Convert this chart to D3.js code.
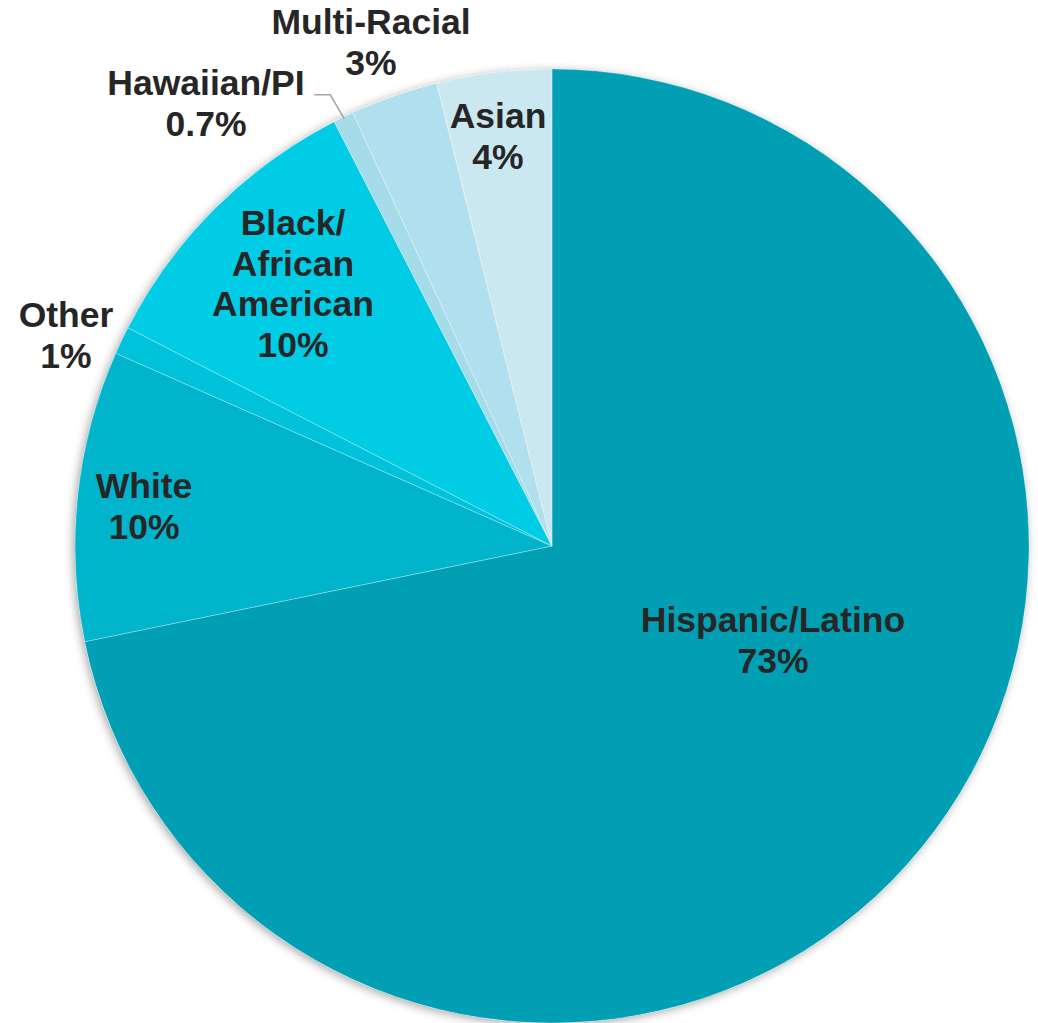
<!DOCTYPE html>
<html>
<head>
<meta charset="utf-8">
<script src="https://cdn.jsdelivr.net/npm/d3@7"></script>
<style>
  html, body { margin: 0; padding: 0; background: #fff; }
  svg { display: block; }
</style>
</head>
<body>
<div id="chart"></div>
<script>
// ── Data ─────────────────────────────────────────────────────────────
const categories = ["Hispanic/Latino", "White", "Other", "Black/African American",
                    "Hawaiian/PI", "Multi-Racial", "Asian"];
const shares     = [71.8, 9.84, 0.94, 9.89, 0.69, 2.97, 3.89];   // slice sizes (%)
const shareText  = ["73%", "10%", "1%", "10%", "0.7%", "3%", "4%"];
const labelLines = [["Hispanic/Latino"], ["White"], ["Other"], ["Black/", "African", "American"],
                    ["Hawaiian/PI"], ["Multi-Racial"], ["Asian"]];

// ── Layout / style ───────────────────────────────────────────────────
const W = 1038, H = 1023;
const cx = 552, cy = 546, R = 477;
const colors = ["#009fb3", "#00b4cb", "#00c2da", "#00cde5", "#a6dcea", "#b0e0ed", "#cbe8f1"];
const fontSize = 35.5, lineH = 40.5;
// label anchor: centre x and first baseline y (page coords)
const labelAnchor = [[773, 632], [144, 498], [66, 327], [293, 235],
                     [206, 95], [371, 34], [498, 128]];

const svg = d3.select("#chart").append("svg")
  .attr("width", W).attr("height", H);

const defs = svg.append("defs");
const f = defs.append("filter").attr("id", "shadow")
  .attr("x", "-10%").attr("y", "-10%").attr("width", "120%").attr("height", "120%");
f.append("feDropShadow")
  .attr("dx", -2).attr("dy", 2)
  .attr("stdDeviation", 5)
  .attr("flood-color", "#000")
  .attr("flood-opacity", 0.35);

const data = categories.map((c, i) => ({ name: c, value: shares[i], i }));

const pie = d3.pie().value(d => d.value).sort(null).startAngle(0).endAngle(2 * Math.PI);
const arc = d3.arc().innerRadius(0).outerRadius(R);
const arcs = pie(data);

const g = svg.append("g").attr("transform", `translate(${cx},${cy})`);

// shadow disc underneath
g.append("circle").attr("r", R).attr("fill", "#fff").attr("filter", "url(#shadow)");

g.selectAll("path.slice")
  .data(arcs)
  .join("path")
  .attr("class", "slice")
  .attr("d", arc)
  .attr("fill", d => colors[d.data.i])
  .attr("stroke", "rgba(255,255,255,0.45)")
  .attr("stroke-width", 0.6);

// ── Leader line for Hawaiian/PI ──────────────────────────────────────
const hp = arcs[4];
const mid = (hp.startAngle + hp.endAngle) / 2;
const edge = [Math.sin(mid) * (R - 2), -Math.cos(mid) * (R - 2)];
const elbow = [edge[0] - 14, edge[1] - 24];
const tail  = [elbow[0] - 16, elbow[1]];
g.append("polyline")
  .attr("points", [edge, elbow, tail].map(p => p.join(",")).join(" "))
  .attr("fill", "none")
  .attr("stroke", "#a6a6a6")
  .attr("stroke-width", 1.5);

// ── Labels ───────────────────────────────────────────────────────────
const labels = svg.append("g")
  .attr("font-family", "Liberation Sans, Arial, sans-serif")
  .attr("font-weight", "bold")
  .attr("font-size", fontSize + "px")
  .attr("fill", "#262626")
  .attr("text-anchor", "middle");

data.forEach((d, i) => {
  const lines = labelLines[i].concat([shareText[i]]);
  const [x, y] = labelAnchor[i];
  const t = labels.append("text").attr("x", x).attr("y", y);
  lines.forEach((ln, k) => {
    t.append("tspan").attr("x", x).attr("y", y + k * lineH).text(ln);
  });
});
</script>
</body>
</html>
